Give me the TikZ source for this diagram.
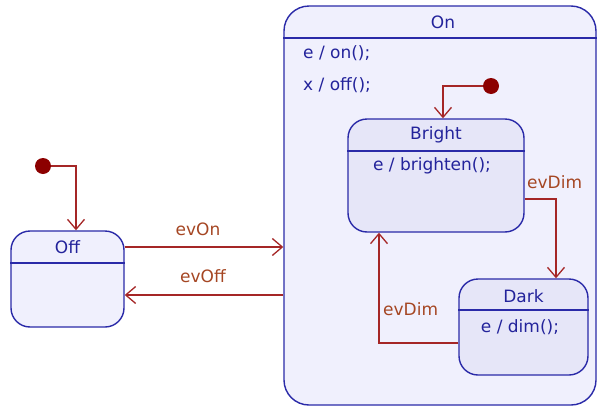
\documentclass[tikz,border=0pt]{standalone}
\usepackage{fontspec}
\setmainfont{DejaVu Sans}
\usetikzlibrary{arrows.meta}
\definecolor{stb}{RGB}{42,42,168}
\definecolor{stfo}{RGB}{240,240,253}
\definecolor{stfi}{RGB}{230,230,248}
\definecolor{trc}{RGB}{165,38,38}
\definecolor{dotc}{RGB}{140,0,0}
\definecolor{stt}{RGB}{35,35,155}
\definecolor{lblc}{RGB}{165,70,35}
\begin{document}
\begin{tikzpicture}[x=1pt,y=-1pt,
  every node/.style={font=\fontsize{17}{20}\selectfont},
  state/.style={draw=stb, fill=stfi, line width=1.4pt, rounded corners=19pt, inner sep=0pt},
  divider/.style={draw=stb, line width=1.4pt},
  sname/.style={text=stt, inner sep=0pt},
  entry/.style={text=stt, inner sep=0pt},
  lbl/.style={text=lblc, inner sep=0pt},
  trans/.style={draw=trc, line width=1.3pt, -{Straight Barb[length=10pt,width=17pt,line width=1.3pt]}},
  initdot/.style={circle, fill=dotc, minimum size=16pt, inner sep=0pt}]
\useasboundingbox (0,0) rectangle (598,410);
% states
\node[state, fill=stfo, rounded corners=25pt, minimum width=312pt, minimum height=399pt] (on) at (440,205.5) {};
\draw[divider] (on.west |- 0,38) -- (on.east |- 0,38);
\node[sname] (onname) at (443,22) {On};
\node[entry, anchor=west] (onen) at (303,53) {e / on();};
\node[entry, anchor=west] (onex) at (303,85) {x / off();};

\node[state, fill=stfo, minimum width=113pt, minimum height=96pt] (off) at (67.5,279) {};
\draw[divider] (off.west |- 0,263) -- (off.east |- 0,263);
\node[sname] (offname) at (67.5,247) {Off};

\node[state, minimum width=176pt, minimum height=113pt] (bright) at (436,175.5) {};
\draw[divider] (bright.west |- 0,151) -- (bright.east |- 0,151);
\node[sname] (brightname) at (436,135) {Bright};
\node[entry] (brighten) at (432,166) {e / brighten();};

\node[state, minimum width=129pt, minimum height=96pt] (dark) at (523.5,327) {};
\draw[divider] (dark.west |- 0,310) -- (dark.east |- 0,310);
\node[sname] (darkname) at (523.5,296) {Dark};
\node[entry] (darken) at (520,327) {e / dim();};

% initial pseudostates
\node[initdot] (i1) at (43,166) {};
\node[initdot] (i2) at (491,86) {};

% transitions
\draw[trans] (i1) -| ([xshift=8.5pt]off.north);
\draw[trans] (i2) -| ([xshift=7pt]bright.north);
\coordinate (offhi) at ([yshift=32pt]off.east);
\coordinate (offlo) at ([yshift=-16pt]off.east);
\draw[trans] (offhi) -- (offhi -| on.west);
\draw[trans] (offlo -| on.west) -- (offlo);
\draw[trans] ([yshift=-23.5pt]bright.east) -| ([xshift=32.5pt]dark.north);
\draw[trans] ([yshift=-16pt]dark.west) -| ([xshift=-57pt]bright.south);

% labels
\node[lbl] (lon) at (198,229) {evOn};
\node[lbl] (loff) at (203,276) {evOff};
\node[lbl, anchor=west] (ld1) at (527,182) {evDim};
\node[lbl, anchor=west] (ld2) at (383,309) {evDim};
\end{tikzpicture}
\end{document}
